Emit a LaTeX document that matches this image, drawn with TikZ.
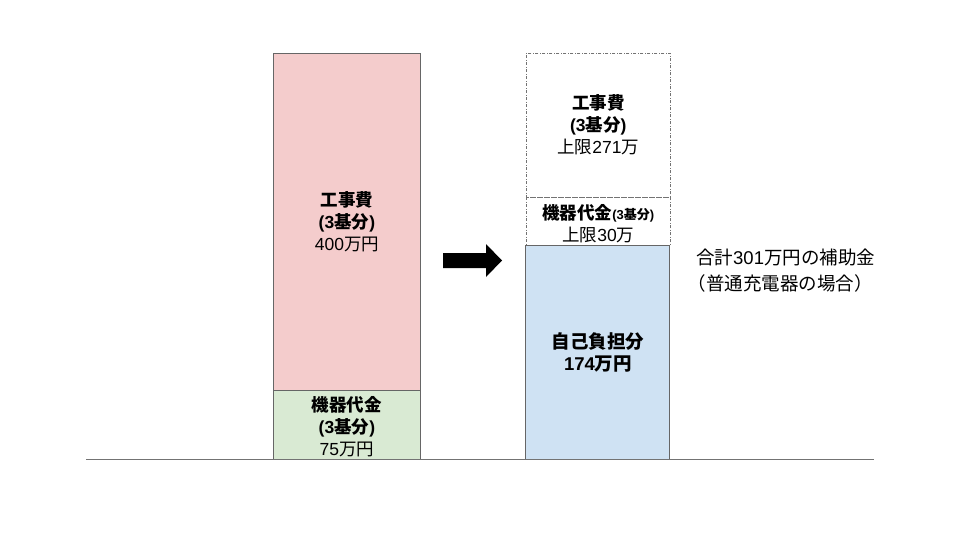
\documentclass[tikz,border=0pt]{standalone}
\usepackage{fontspec}
\setmainfont{Noto Sans CJK JP}
\newfontfamily\lat{Liberation Sans}
\newcommand{\la}[1]{{\lat #1}}
\begin{document}
\begin{tikzpicture}[x=1pt,y=-1pt,
  bar/.style={draw=black!60,line width=0.8pt,minimum width=147pt,inner sep=0pt,anchor=north west},
  dbar/.style={bar,draw=black!55,dash pattern=on 3pt off 1.5pt on 1pt off 1.5pt,line width=0.6pt,minimum width=144pt},
  lbl/.style={align=center,font=\fontsize{17.5}{22}\selectfont,inner sep=0pt}
]
\useasboundingbox (0,0) rectangle (960,540);
\node[bar,fill={rgb,255:red,217;green,234;blue,211},minimum height=69pt] (kiki) at (273,390) {};
\node[bar,fill={rgb,255:red,244;green,204;blue,204},minimum height=337pt] (kouji) at (273,53) {};
\node[lbl] (koujit) at (kouji.center) {\textbf{工事費}\\\textbf{\la{(3}基分\la{)}}\\\la{400}万円};
\node[lbl] (kikit) at ([yshift=-2pt]kiki.center) {\textbf{機器代金}\\\textbf{\la{(3}基分\la{)}}\\\la{75}万円};

\node[dbar,minimum height=144pt] (kouji2) at (526,53) {};
\node[dbar,minimum height=48pt] (kiki2) at (526,197) {};
\node[bar,fill={rgb,255:red,207;green,226;blue,243},minimum width=144pt,minimum height=214pt] (jiko) at (525,245) {};
\node[lbl] (kouji2t) at ([yshift=1pt]kouji2.center) {\textbf{工事費}\\\textbf{\la{(3}基分\la{)}}\\上限\la{271}万};
\node[lbl] (kiki2t) at ([yshift=-2pt]kiki2.center) {\textbf{機器代金{\fontsize{13}{14}\selectfont\la{(3}基分\la{)}}}\\上限\la{30}万};
\node[lbl,font=\fontsize{18.5}{22}\selectfont] (jikot) at (598,352) {\textbf{自己負担分}\\\textbf{\la{174}万円}};

\node[font=\fontsize{18.5}{26}\selectfont,align=left,anchor=west,inner sep=0pt] (note) at (696,271) {合計\la{301}万円の補助金\\\hspace*{-8.5pt}（普通充電器の場合）};

\fill[black] (443,253) -- (486,253) -- (486,244) -- (502,260.5) -- (486,277) -- (486,268) -- (443,268) -- cycle;

\coordinate (b0) at (86,459);
\coordinate (b1) at (874,459);
\draw[black!55,line width=0.9pt] (b0) -- (b1);
\end{tikzpicture}
\end{document}
